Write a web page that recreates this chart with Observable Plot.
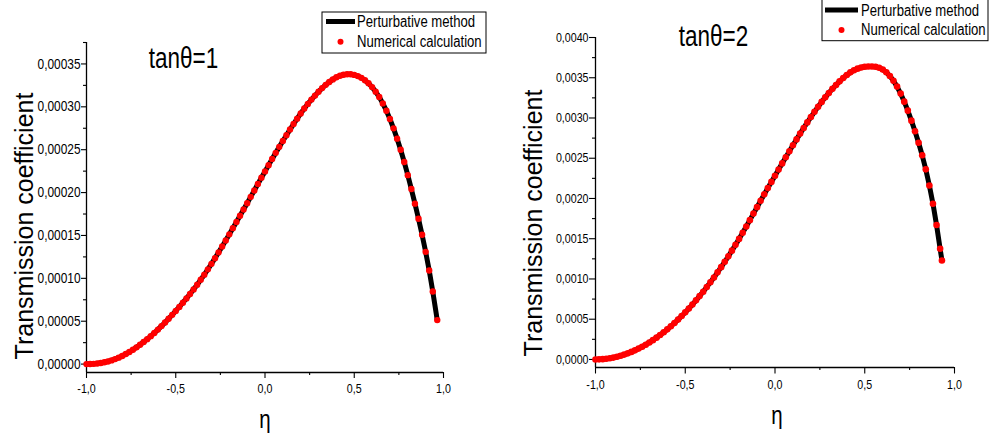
<!DOCTYPE html>
<html><head><meta charset="utf-8">
<script src="https://cdn.jsdelivr.net/npm/d3@7"></script>
<script src="https://cdn.jsdelivr.net/npm/@observablehq/plot@0.6"></script>
<style>
body{margin:0;background:#fff;}
#wrap{display:flex;width:990px;height:440px;overflow:hidden;}
#wrap>div{width:495px;height:440px;}
</style></head><body><div id="wrap"><div id="p1"></div><div id="p2"></div></div>
<script>
// ---- data: left panel (tanθ=1) ----
const eta1 = [-1.00,-0.98,-0.96,-0.94,-0.92,-0.90,-0.88,-0.86,-0.84,-0.82,
 -0.80,-0.78,-0.76,-0.74,-0.72,-0.70,-0.68,-0.66,-0.64,-0.62,
 -0.60,-0.58,-0.56,-0.54,-0.52,-0.50,-0.48,-0.46,-0.44,-0.42,
 -0.40,-0.38,-0.36,-0.34,-0.32,-0.30,-0.28,-0.26,-0.24,-0.22,
 -0.20,-0.18,-0.16,-0.14,-0.12,-0.10,-0.08,-0.06,-0.04,-0.02,
 0.00,0.02,0.04,0.06,0.08,0.10,0.12,0.14,0.16,0.18,
 0.20,0.22,0.24,0.26,0.28,0.30,0.32,0.34,0.36,0.38,
 0.40,0.42,0.44,0.46,0.48,0.50,0.52,0.54,0.56,0.58,
 0.60,0.62,0.64,0.66,0.68,0.70,0.72,0.74,0.76,0.78,
 0.80,0.82,0.84,0.86,0.88,0.90,0.92,0.94,0.965];
const T1 = [0.00e-5,0.01e-5,0.03e-5,0.07e-5,0.13e-5,0.21e-5,0.31e-5,0.43e-5,0.58e-5,0.75e-5,
 0.95e-5,1.17e-5,1.41e-5,1.67e-5,1.95e-5,2.25e-5,2.57e-5,2.91e-5,3.26e-5,3.63e-5,
 4.02e-5,4.43e-5,4.85e-5,5.29e-5,5.74e-5,6.20e-5,6.67e-5,7.16e-5,7.66e-5,8.18e-5,
 8.71e-5,9.26e-5,9.83e-5,10.43e-5,11.05e-5,11.69e-5,12.35e-5,13.03e-5,13.72e-5,14.42e-5,
 15.13e-5,15.85e-5,16.57e-5,17.29e-5,18.02e-5,18.76e-5,19.50e-5,20.25e-5,21.00e-5,21.74e-5,
 22.47e-5,23.20e-5,23.92e-5,24.63e-5,25.33e-5,26.02e-5,26.69e-5,27.35e-5,27.99e-5,28.62e-5,
 29.22e-5,29.80e-5,30.34e-5,30.84e-5,31.31e-5,31.76e-5,32.18e-5,32.56e-5,32.90e-5,33.20e-5,
 33.44e-5,33.62e-5,33.74e-5,33.80e-5,33.80e-5,33.72e-5,33.58e-5,33.38e-5,33.10e-5,32.74e-5,
 32.30e-5,31.77e-5,31.14e-5,30.40e-5,29.55e-5,28.58e-5,27.49e-5,26.29e-5,24.99e-5,23.57e-5,
 22.03e-5,20.41e-5,18.71e-5,16.95e-5,15.08e-5,13.09e-5,10.91e-5,8.46e-5,5.13e-5];

// ---- data: right panel (tanθ=2) ----
const eta2 = [-1.00,-0.98,-0.96,-0.94,-0.92,-0.90,-0.88,-0.86,-0.84,-0.82,
 -0.80,-0.78,-0.76,-0.74,-0.72,-0.70,-0.68,-0.66,-0.64,-0.62,
 -0.60,-0.58,-0.56,-0.54,-0.52,-0.50,-0.48,-0.46,-0.44,-0.42,
 -0.40,-0.38,-0.36,-0.34,-0.32,-0.30,-0.28,-0.26,-0.24,-0.22,
 -0.20,-0.18,-0.16,-0.14,-0.12,-0.10,-0.08,-0.06,-0.04,-0.02,
 0.00,0.02,0.04,0.06,0.08,0.10,0.12,0.14,0.16,0.18,
 0.20,0.22,0.24,0.26,0.28,0.30,0.32,0.34,0.36,0.38,
 0.40,0.42,0.44,0.46,0.48,0.50,0.52,0.54,0.56,0.58,
 0.60,0.62,0.64,0.66,0.68,0.70,0.72,0.74,0.76,0.78,
 0.80,0.82,0.84,0.86,0.88,0.90,0.92,0.93];
const T2 = [0.00e-4,0.01e-4,0.04e-4,0.08e-4,0.15e-4,0.23e-4,0.34e-4,0.46e-4,0.60e-4,0.76e-4,
 0.94e-4,1.13e-4,1.35e-4,1.58e-4,1.83e-4,2.11e-4,2.40e-4,2.71e-4,3.03e-4,3.38e-4,
 3.74e-4,4.13e-4,4.53e-4,4.95e-4,5.39e-4,5.85e-4,6.33e-4,6.82e-4,7.34e-4,7.87e-4,
 8.42e-4,9.00e-4,9.59e-4,10.19e-4,10.82e-4,11.47e-4,12.13e-4,12.81e-4,13.52e-4,14.24e-4,
 14.98e-4,15.73e-4,16.51e-4,17.31e-4,18.12e-4,18.92e-4,19.72e-4,20.51e-4,21.29e-4,22.06e-4,
 22.83e-4,23.60e-4,24.36e-4,25.12e-4,25.87e-4,26.61e-4,27.34e-4,28.06e-4,28.76e-4,29.45e-4,
 30.12e-4,30.77e-4,31.40e-4,32.00e-4,32.57e-4,33.11e-4,33.62e-4,34.10e-4,34.55e-4,34.97e-4,
 35.35e-4,35.67e-4,35.93e-4,36.13e-4,36.27e-4,36.36e-4,36.40e-4,36.40e-4,36.36e-4,36.24e-4,
 36.02e-4,35.68e-4,35.22e-4,34.63e-4,33.90e-4,33.03e-4,32.03e-4,30.91e-4,29.67e-4,28.36e-4,
 26.93e-4,25.37e-4,23.62e-4,21.62e-4,19.35e-4,16.70e-4,13.75e-4,12.30e-4];

// ---- axes ----
const xDomain = [-1, 1];
const xTicks = [-1, -0.5, 0, 0.5, 1];
const xMinor = [-0.75, -0.25, 0.25, 0.75];
const yDomain1 = [-0.0000098, 0.000375];
const yTicks1 = [0, 0.00005, 0.0001, 0.00015, 0.0002, 0.00025, 0.0003, 0.00035];
const yMinor1 = [0.000025, 0.000075, 0.000125, 0.000175, 0.000225, 0.000275, 0.000325, 0.000375];
const yDomain2 = [-0.0001, 0.004];
const yTicks2 = [0, 0.0005, 0.001, 0.0015, 0.002, 0.0025, 0.003, 0.0035, 0.004];
const yMinor2 = [0.00025, 0.00075, 0.00125, 0.00175, 0.00225, 0.00275, 0.00325, 0.00375];

// ---- texts ----
const titles = ["tanθ=1", "tanθ=2"];
const yLabel = "Transmission coefficient";
const xLabel = "η";
const legendLabels = ["Perturbative method", "Numerical calculation"];

const FONT = "'Liberation Sans', Arial, Helvetica, sans-serif";
const fmtX = d => d.toFixed(1).replace(".", ",");

function panel(cfg) {
  const data = cfg.eta.map((e, i) => ({eta: e, T: cfg.T[i]}));
  return Plot.plot({
    width: 495, height: 440,
    marginLeft: cfg.m[0], marginRight: cfg.m[1], marginTop: cfg.m[2], marginBottom: cfg.m[3],
    x: {domain: xDomain, label: null},
    y: {domain: cfg.yDomain, label: null},
    style: {fontFamily: FONT, color: "#000", background: "#fff", overflow: "visible"},
    marks: [
      Plot.axisX(xMinor, {tickSize: 3, text: null, label: null, strokeWidth: 1.1}),
      Plot.axisX(xTicks, {tickSize: cfg.xts, tickPadding: cfg.xtp, tickFormat: fmtX, fontSize: 13, label: null, strokeWidth: 1.1}),
      Plot.axisY(cfg.yMinor, {tickSize: 3, text: null, label: null, strokeWidth: 1.1}),
      Plot.axisY(cfg.yTicks, {tickSize: cfg.yts, tickPadding: 1, tickFormat: cfg.fmtY, fontSize: cfg.yfs, label: null, strokeWidth: 1.1}),
      Plot.ruleX([xDomain[0]], {strokeWidth: 1.3}),
      Plot.ruleY([cfg.yDomain[0]], {strokeWidth: 1.3}),
      Plot.line(data, {x: "eta", y: "T", stroke: "#000", strokeWidth: 5}),
      Plot.dot(data, {x: "eta", y: "T", r: cfg.r, fill: "#ff0000", stroke: null}),
      Plot.text([yLabel], {frameAnchor: "left", rotate: -90, textAnchor: "middle", lineAnchor: "middle", dx: cfg.yl[0], dy: cfg.yl[1], fontSize: 25}),
      Plot.text([xLabel], {frameAnchor: "bottom", textAnchor: "middle", dx: cfg.xl[0], dy: cfg.xl[1], lineAnchor: "bottom", fontSize: 25}),
      Plot.text([cfg.title], {frameAnchor: "top-left", dx: cfg.tl[0], dy: cfg.tl[1], lineAnchor: "bottom", textAnchor: "middle", fontSize: 30})
    ]
  });
}

function addLegend(svg, L) {
  const g = d3.select(svg).append("g").attr("font-family", FONT).attr("font-size", 16).attr("text-anchor", "start");
  g.append("rect").attr("x", L.x).attr("y", L.y).attr("width", L.w).attr("height", L.h)
    .attr("fill", "#fff").attr("stroke", "#000").attr("stroke-width", 1);
  g.append("line").attr("x1", L.lx1).attr("x2", L.lx2).attr("y1", L.ly).attr("y2", L.ly)
    .attr("stroke", "#000").attr("stroke-width", 5);
  g.append("circle").attr("cx", (L.lx1 + L.lx2) / 2).attr("cy", L.dy).attr("r", 3).attr("fill", "#ff0000");
  g.selectAll("text.lg").data(legendLabels).join("text").attr("class", "lg")
    .attr("transform", (d, i) => `translate(${L.tx},${L.ty[i]}) scale(0.82,1)`)
    .attr("fill", "#000").attr("text-anchor", "start").text(d => d);
}

// condensed look of the original (Arial Narrow-like): squeeze horizontal Plot texts
function squeeze(svg) {
  svg.querySelectorAll("text").forEach(t => {
    const s = t.textContent;
    if (s === yLabel || t.classList.contains("lg")) return;
    const f = titles.includes(s) ? 0.75 : 0.82;
    const L = t.getComputedTextLength();
    if (L > 0) {
      t.setAttribute("textLength", (L * f).toFixed(2));
      t.setAttribute("lengthAdjust", "spacingAndGlyphs");
    }
  });
}

const svg1 = panel({eta: eta1, T: T1, yDomain: yDomain1, yTicks: yTicks1, yMinor: yMinor1,
  fmtY: d => d.toFixed(5).replace(".", ","), yfs: 14.5, yts: 5, xts: 6, xtp: 5,
  m: [86, 52, 42, 68], r: 3.2, title: titles[0], yl: [-62, 18.5], xl: [0, 55], tl: [97, 25]});
const svg2 = panel({eta: eta2, T: T2, yDomain: yDomain2, yTicks: yTicks2, yMinor: yMinor2,
  fmtY: d => d.toFixed(4).replace(".", ","), yfs: 13, yts: 6, xts: 6.5, xtp: 6,
  m: [100, 36, 37, 73], r: 3.3, title: titles[1], yl: [-61.5, 20.5], xl: [2, 56], tl: [118, 8]});
document.getElementById("p1").appendChild(svg1);
document.getElementById("p2").appendChild(svg2);
addLegend(svg1, {x: 322, y: 12, w: 164, h: 41, lx1: 326, lx2: 355, ly: 21.5, dy: 41.7, tx: 357, ty: [27, 46.5]});
addLegend(svg2, {x: 327, y: -2, w: 166, h: 42.7, lx1: 330, lx2: 363, ly: 10, dy: 30, tx: 366, ty: [16, 34.5]});
squeeze(svg1);
squeeze(svg2);
</script></body></html>
